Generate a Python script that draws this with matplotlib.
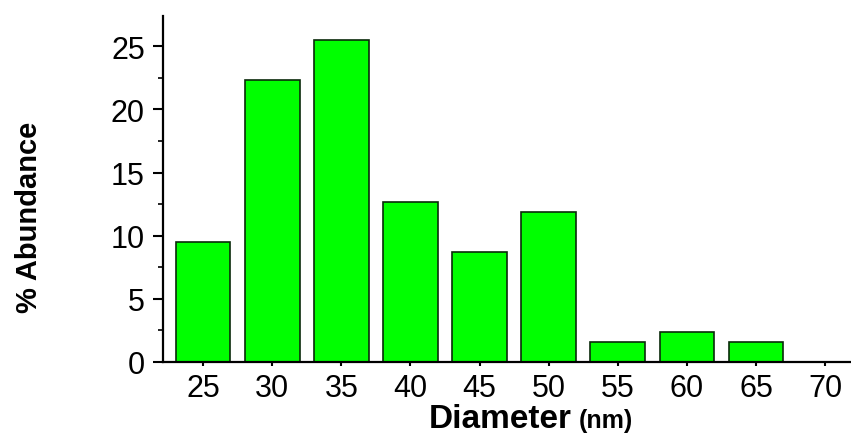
import matplotlib
matplotlib.use("Agg")
import matplotlib.pyplot as plt
from matplotlib.ticker import MultipleLocator

# data
diameters = [25, 30, 35, 40, 45, 50, 55, 60, 65, 70]
abundance = [9.5, 22.3, 25.5, 12.7, 8.7, 11.9, 1.55, 2.35, 1.55, 0.0]
x_ticks = [25, 30, 35, 40, 45, 50, 55, 60, 65, 70]
y_ticks = [0, 5, 10, 15, 20, 25]

plt.rcParams["font.family"] = ["Liberation Sans", "DejaVu Sans"]

fig = plt.figure(figsize=(8.51, 4.39), dpi=100)
ax = fig.add_axes([163 / 851, 76 / 439, 687 / 851, 346 / 439])

ax.bar(diameters, abundance, width=3.95, color="#00ff00",
       edgecolor="#0a2a0a", linewidth=1.2, zorder=2)

ax.set_xlim(22.1, 71.8)
ax.set_ylim(0, 27.4)
ax.set_xticks(x_ticks)
ax.set_yticks(y_ticks)
ax.yaxis.set_minor_locator(MultipleLocator(2.5))

for side in ("top", "right"):
    ax.spines[side].set_visible(False)
for side in ("left", "bottom"):
    ax.spines[side].set_linewidth(1.6)

ax.tick_params(axis="y", which="major", direction="out", length=7, width=1.5,
               labelsize=22, pad=6)
ax.tick_params(axis="y", which="minor", direction="out", length=3.5, width=1.2)
ax.tick_params(axis="x", which="major", direction="out", length=3, width=1.5,
               labelsize=22, pad=5)

# y label sits a bit below the axis centre in the reference
fig.text(29 / 851, 1 - 217 / 439, "% Abundance", fontsize=21, fontweight="bold",
         rotation=90, ha="center", va="center")

fig.text(572 / 851, 11 / 439, "Diameter", fontsize=24, fontweight="bold",
         ha="right", va="baseline")
fig.text(579 / 851, 11 / 439, "(nm)", fontsize=18, fontweight="bold",
         ha="left", va="baseline")

fig.savefig("out.png", dpi=100)
